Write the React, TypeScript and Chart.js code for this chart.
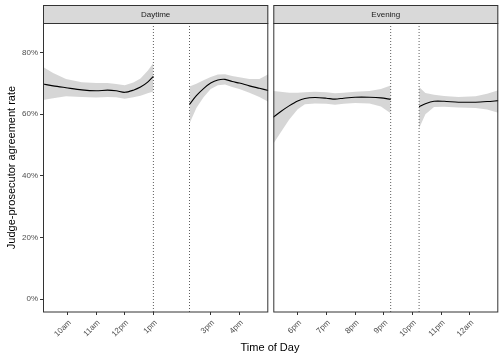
import React, { useEffect, useRef } from 'react';
import { Chart, registerables } from 'chart.js';
Chart.register(...registerables);

const FONT = '"Liberation Sans", Arial, Helvetica, sans-serif';

// ---- data ----
const yTicks = [0, 20, 40, 60, 80];
const yMin = -4.2;
const yMax = 89.6;

const dayHours1 = [9.15, 9.5, 9.95, 10.5, 11.0, 11.4, 11.7, 12.0, 12.3, 12.55, 12.8, 13.0];
const dayMean1 = [69.8, 69.2, 68.6, 67.9, 67.6, 67.8, 67.6, 67.1, 67.8, 68.8, 70.4, 72.3];
const dayLow1 = [64.6, 65.2, 65.8, 65.6, 65.4, 65.6, 65.5, 65.0, 65.5, 66.0, 66.8, 67.4];
const dayHigh1 = [75.3, 73.4, 71.4, 70.4, 70.1, 70.1, 69.8, 69.4, 70.3, 71.6, 74.1, 76.6];

const dayHours2 = [14.26, 14.5, 14.75, 15.0, 15.25, 15.5, 15.75, 16.0, 16.35, 16.7, 17.01];
const dayMean2 = [63.2, 66.0, 68.3, 70.1, 71.1, 71.3, 70.6, 70.1, 69.2, 68.4, 67.7];
const dayLow2 = [57.0, 62.0, 65.5, 68.2, 69.4, 69.6, 68.8, 68.2, 67.0, 65.6, 64.0];
const dayHigh2 = [69.0, 69.9, 71.0, 72.1, 72.9, 73.0, 72.4, 72.0, 71.4, 71.4, 73.0];

const eveHours1 = [17.15, 17.4, 17.7, 18.0, 18.25, 18.6, 19.0, 19.3, 19.6, 20.0, 20.5, 20.9, 21.24];
const eveMean1 = [59.0, 60.8, 62.7, 64.3, 65.1, 65.4, 65.2, 64.9, 65.2, 65.5, 65.5, 65.3, 64.8];
const eveLow1 = [50.4, 54.0, 58.2, 61.6, 63.2, 63.5, 63.4, 63.1, 63.4, 63.6, 63.5, 62.5, 60.3];
const eveHigh1 = [67.5, 67.3, 67.0, 67.0, 67.1, 67.3, 67.1, 66.8, 67.0, 67.3, 67.5, 68.2, 69.3];

const eveHours2 = [22.23, 22.45, 22.75, 23.1, 23.6, 24.2, 24.6, 24.99];
const eveMean2 = [62.4, 63.4, 64.2, 64.2, 63.9, 63.9, 64.1, 64.4];
const eveLow2 = [55.4, 60.0, 62.3, 62.4, 62.2, 62.0, 61.5, 60.5];
const eveHigh2 = [68.8, 66.9, 66.3, 65.9, 65.6, 65.8, 66.6, 67.8];

const dayTickHours = [10, 11, 12, 13, 15, 16];
const dayTickLabels = ['10am', '11am', '12pm', '1pm', '3pm', '4pm'];
const eveTickHours = [18, 19, 20, 21, 22, 23, 24];
const eveTickLabels = ['6pm', '7pm', '8pm', '9pm', '10pm', '11pm', '12am'];

const dayBreaks = [13.0, 14.26];
const eveBreaks = [21.24, 22.23];

const dayRange = [9.147, 17.01];
const eveRange = [17.15, 24.99];

const RIBBON = 'rgba(153,153,153,0.4)';
const STRIP_TOP = 5;

type Seg = { hours: number[]; mean: number[]; low: number[]; high: number[] };

function pts(xs: number[], ys: number[]) {
  return xs.map((x, i) => ({ x, y: ys[i] }));
}

const panelPlugin = {
  id: 'panelDecor',
  afterDraw(chart: any, _args: any, opts: any) {
    const { ctx, chartArea } = chart;
    const { left, right, top, bottom } = chartArea;
    ctx.save();
    // strip
    ctx.fillStyle = '#d9d9d9';
    ctx.fillRect(left, STRIP_TOP, right - left, top - STRIP_TOP);
    ctx.strokeStyle = '#333333';
    ctx.lineWidth = 1;
    ctx.strokeRect(left + 0.5, STRIP_TOP + 0.5, right - left - 1, top - STRIP_TOP);
    ctx.fillStyle = '#1a1a1a';
    ctx.font = '8px ' + FONT;
    ctx.textAlign = 'center';
    ctx.textBaseline = 'middle';
    ctx.fillText(opts.title, (left + right) / 2, (STRIP_TOP + top) / 2 + 0.5);
    // panel border
    ctx.strokeRect(left + 0.5, top + 0.5, right - left - 1, bottom - top - 0.5);
    ctx.restore();
  },
};

function Panel(props: {
  title: string;
  segs: Seg[];
  tickHours: number[];
  tickLabels: string[];
  breaks: number[];
  range: number[];
  showY: boolean;
  width: number;
  padLeft: number;
  padRight: number;
  left: number;
}) {
  const ref = useRef<HTMLCanvasElement>(null);
  useEffect(() => {
    const datasets: any[] = [];
    props.segs.forEach((s) => {
      datasets.push({
        data: pts(s.hours, s.low),
        borderWidth: 0,
        pointRadius: 0,
        fill: false,
        order: 3,
        borderColor: 'rgba(0,0,0,0)',
      });
      datasets.push({
        data: pts(s.hours, s.high),
        borderWidth: 0,
        pointRadius: 0,
        fill: '-1',
        backgroundColor: RIBBON,
        order: 3,
        borderColor: 'rgba(0,0,0,0)',
      });
    });
    props.breaks.forEach((b) => {
      datasets.push({
        data: [
          { x: b, y: yMin },
          { x: b, y: yMax },
        ],
        borderColor: '#333333',
        borderWidth: 0.8,
        borderDash: [1, 2],
        pointRadius: 0,
        fill: false,
        order: 2,
      });
    });
    props.segs.forEach((s) => {
      datasets.push({
        data: pts(s.hours, s.mean),
        borderColor: '#000000',
        borderWidth: 1.1,
        pointRadius: 0,
        fill: false,
        tension: 0.3,
        order: 1,
      });
    });

    const showY = props.showY;
    const chart = new Chart(ref.current as HTMLCanvasElement, {
      type: 'line',
      data: { datasets },
      plugins: [panelPlugin],
      options: {
        animation: false,
        responsive: false,
        maintainAspectRatio: false,
        layout: { padding: { top: 23, left: props.padLeft, right: props.padRight, bottom: 0 } },
        plugins: {
          legend: { display: false },
          tooltip: { enabled: false },
          panelDecor: { title: props.title },
        } as any,
        scales: {
          x: {
            type: 'linear',
            min: props.range[0],
            max: props.range[1],
            afterBuildTicks: (s: any) => {
              s.ticks = props.tickHours.map((v) => ({ value: v }));
            },
            afterFit: (s: any) => {
              s.height = 48;
            },
            ticks: {
              autoSkip: false,
              minRotation: 45,
              maxRotation: 45,
              padding: 3,
              labelOffset: 2.5,
              color: '#4d4d4d',
              font: { size: 8, family: FONT },
              callback: (_v: any, i: number) => props.tickLabels[i],
            },
            grid: { drawOnChartArea: false, drawTicks: true, tickLength: 3, color: '#333333' },
            border: { display: false },
          },
          y: {
            type: 'linear',
            display: showY,
            min: yMin,
            max: yMax,
            afterBuildTicks: (s: any) => {
              s.ticks = yTicks.map((v) => ({ value: v }));
            },
            afterFit: (s: any) => {
              s.width = showY ? 43 : 0;
            },
            ticks: {
              padding: 2,
              color: '#4d4d4d',
              font: { size: 8, family: FONT },
              callback: (v: any) => v + '%',
            },
            grid: { drawOnChartArea: false, drawTicks: true, tickLength: 3, color: '#333333' },
            border: { display: false },
            title: {
              display: showY,
              text: 'Judge-prosecutor agreement rate',
              color: '#000000',
              font: { size: 11, family: FONT },
              padding: { top: 5, bottom: 0 },
            },
          },
        },
      } as any,
    });
    return () => chart.destroy();
  }, []);
  return (
    <canvas
      ref={ref}
      width={props.width}
      height={360}
      style={{ position: 'absolute', left: props.left, top: 0, width: props.width, height: 360 }}
    />
  );
}

export default function App() {
  const daySegs: Seg[] = [
    { hours: dayHours1, mean: dayMean1, low: dayLow1, high: dayHigh1 },
    { hours: dayHours2, mean: dayMean2, low: dayLow2, high: dayHigh2 },
  ];
  const eveSegs: Seg[] = [
    { hours: eveHours1, mean: eveMean1, low: eveLow1, high: eveHigh1 },
    { hours: eveHours2, mean: eveMean2, low: eveLow2, high: eveHigh2 },
  ];
  return (
    <div style={{ position: 'fixed', left: 0, top: 0, width: 504, height: 360, background: '#ffffff', overflow: 'hidden' }}>
      <Panel
        title="Daytime"
        segs={daySegs}
        tickHours={dayTickHours}
        tickLabels={dayTickLabels}
        breaks={dayBreaks}
        range={dayRange}
        showY={true}
        width={270}
        padLeft={0}
        padRight={1.7}
        left={0}
      />
      <Panel
        title="Evening"
        segs={eveSegs}
        tickHours={eveTickHours}
        tickLabels={eveTickLabels}
        breaks={eveBreaks}
        range={eveRange}
        showY={false}
        width={234}
        padLeft={3.3}
        padRight={5.7}
        left={270}
      />
      <div
        style={{
          position: 'absolute',
          left: 0,
          width: 540,
          top: 340,
          textAlign: 'center',
          fontFamily: FONT,
          fontSize: 11,
          lineHeight: '14px',
          color: '#000000',
        }}
      >
        Time of Day
      </div>
    </div>
  );
}
